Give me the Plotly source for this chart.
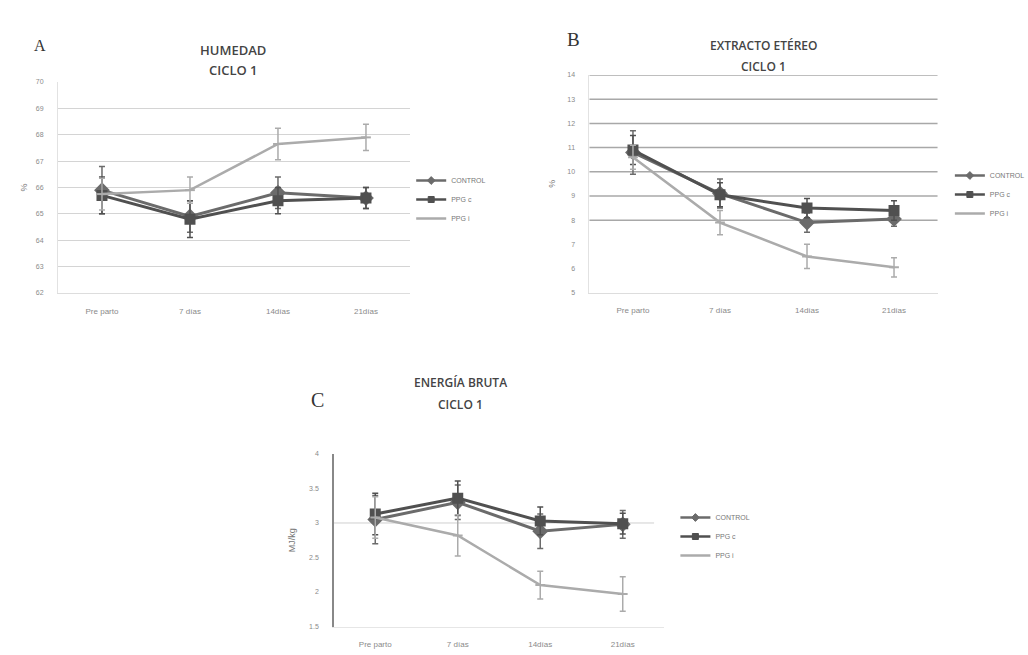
import plotly.graph_objects as go

# ---------------- data ----------------
categorias = ["Pre parto", "7 días", "14días", "21días"]
series = ["CONTROL", "PPG c", "PPG i"]

humedad_control = [65.9, 64.9, 65.8, 65.6]
humedad_control_err = [0.9, 0.6, 0.6, 0.4]
humedad_ppgc = [65.7, 64.8, 65.5, 65.6]
humedad_ppgc_err = [0.7, 0.7, 0.5, 0.4]
humedad_ppgi = [65.75, 65.9, 67.65, 67.9]
humedad_ppgi_err = [0.6, 0.5, 0.6, 0.5]

extracto_control = [10.8, 9.1, 7.9, 8.05]
extracto_control_err = [0.9, 0.6, 0.4, 0.3]
extracto_ppgc = [10.9, 9.05, 8.5, 8.4]
extracto_ppgc_err = [0.6, 0.5, 0.4, 0.4]
extracto_ppgi = [10.6, 7.9, 6.5, 6.05]
extracto_ppgi_err = [0.5, 0.5, 0.5, 0.4]

energia_control = [3.05, 3.3, 2.88, 2.98]
energia_control_err = [0.35, 0.25, 0.25, 0.2]
energia_ppgc = [3.13, 3.36, 3.03, 2.99]
energia_ppgc_err = [0.3, 0.25, 0.2, 0.15]
energia_ppgi = [3.08, 2.82, 2.1, 1.97]
energia_ppgi_err = [0.3, 0.3, 0.2, 0.25]

ticks_a = [62, 63, 64, 65, 66, 67, 68, 69, 70]
ticks_b = [5, 6, 7, 8, 9, 10, 11, 12, 13, 14]
grid_b = [8, 9, 10, 11, 12, 13, 14]
ticks_c = [1.5, 2, 2.5, 3, 3.5, 4]
ticktext_c = ["1.5", "2", "2.5", "3", "3.5", "4"]
grid_c = [3]

# ---------------- styles ----------------
colors = {"CONTROL": "#6b6b6b", "PPG c": "#505050", "PPG i": "#ababab"}
symbols = {"CONTROL": "diamond", "PPG c": "square", "PPG i": "line-ew"}
msize = {"CONTROL": 10, "PPG c": 9, "PPG i": 7}
lwidth = {"CONTROL": 3, "PPG c": 3, "PPG i": 2.5}

fig = go.Figure()

panels = [
    ("x", "y", "legend", [humedad_control, humedad_ppgc, humedad_ppgi],
     [humedad_control_err, humedad_ppgc_err, humedad_ppgi_err]),
    ("x2", "y2", "legend2", [extracto_control, extracto_ppgc, extracto_ppgi],
     [extracto_control_err, extracto_ppgc_err, extracto_ppgi_err]),
    ("x3", "y3", "legend3", [energia_control, energia_ppgc, energia_ppgi],
     [energia_control_err, energia_ppgc_err, energia_ppgi_err]),
]

for xa, ya, leg, vals, errs in panels:
    for name, v, e in zip(series, vals, errs):
        c = colors[name]
        fig.add_trace(go.Scatter(
            x=categorias, y=v, name=name, xaxis=xa, yaxis=ya,
            showlegend=False, mode="lines+markers",
            line=dict(color=c, width=lwidth[name]),
            marker=dict(symbol=symbols[name], size=msize[name], color=c,
                        line=dict(color=c, width=2)),
            error_y=dict(type="data", array=e, visible=True, color=c,
                         thickness=1.5, width=3),
        ))
        # legend entry with smaller symbol
        fig.add_trace(go.Scatter(
            x=[None], y=[None], name=name, xaxis=xa, yaxis=ya, legend=leg,
            mode="lines+markers", line=dict(color=c, width=2.5),
            marker=dict(symbol=symbols[name], size=6, color=c,
                        line=dict(color=c, width=1)),
            hoverinfo="skip",
        ))

tickfont = dict(family="Liberation Sans, Arial", size=7, color="#8a8a8a")
catfont = dict(family="Liberation Sans, Arial", size=8, color="#8a8a8a")

def xaxis(domain, anchor, linecolor="#dddddd"):
    return dict(domain=domain, anchor=anchor, type="category",
                range=[-0.5, 3.5], showgrid=False, zeroline=False,
                showline=True, linecolor=linecolor, linewidth=1,
                ticks="outside", ticklen=10, tickcolor="rgba(0,0,0,0)",
                tickfont=catfont, fixedrange=True, automargin=False)

legfont = dict(family="Liberation Sans, Arial", size=7, color="#777777")
legcommon = dict(xanchor="left", yanchor="top", font=legfont, itemwidth=30,
                 bgcolor="rgba(0,0,0,0)", tracegroupgap=0)

fig.update_layout(
    width=1028, height=655,
    margin=dict(l=0, r=0, t=0, b=0, autoexpand=False),
    paper_bgcolor="white", plot_bgcolor="white",
    showlegend=True,
    font=dict(family="Liberation Sans, Arial", color="#555555"),
    xaxis=xaxis([0.0564, 0.3988], "y"),
    yaxis=dict(domain=[0.5527, 0.8748], anchor="x", range=[62, 70],
               tickvals=ticks_a, showgrid=True, gridcolor="#d4d4d4",
               gridwidth=1, zeroline=False, showline=True,
               linecolor="#e2e2e2", ticks="outside", ticklen=12,
               tickcolor="rgba(0,0,0,0)", tickfont=tickfont, automargin=False,
               title=dict(text="%", font=dict(size=9, color="#777777"), standoff=6)),
    xaxis2=xaxis([0.5734, 0.912], "y2"),
    yaxis2=dict(domain=[0.5531, 0.8855], anchor="x2", range=[5, 14],
                tickvals=ticks_b, showgrid=False, zeroline=False,
                showline=True, linecolor="#e2e2e2", ticks="outside",
                ticklen=12, tickcolor="rgba(0,0,0,0)", tickfont=tickfont,
                automargin=False,
                title=dict(text="%", font=dict(size=9, color="#777777"), standoff=10)),
    xaxis3=xaxis([0.3249, 0.6459], "y3", linecolor="#e6e6e6"),
    yaxis3=dict(domain=[0.0435, 0.3069], anchor="x3", range=[1.5, 4],
                tickvals=ticks_c, ticktext=ticktext_c, showgrid=False,
                zeroline=False, showline=True, linecolor="#888888",
                linewidth=1.5, ticks="outside", ticklen=12,
                tickcolor="rgba(0,0,0,0)", tickfont=tickfont, automargin=False,
                title=dict(text="MJ/kg", font=dict(size=9, color="#777777"), standoff=12)),
    legend=dict(x=0.400, y=1 - 166 / 655, **legcommon),
    legend2=dict(x=0.924, y=1 - 161 / 655, **legcommon),
    legend3=dict(x=0.657, y=1 - 503 / 655, **legcommon),
)

# gridlines for panel B and C (reference lines at given values)
for g in grid_b:
    fig.add_shape(type="line", xref="x2 domain", yref="y2", x0=0, x1=1,
                  y0=g, y1=g, line=dict(color="#a8a8a8", width=1.5), layer="below")
for g in grid_c:
    fig.add_shape(type="line", xref="x3 domain", yref="y3", x0=0, x1=0.97,
                  y0=g, y1=g, line=dict(color="#cfcfcf", width=1), layer="below")

titlefont = dict(family="Open Sans, Liberation Sans", size=13, color="#444444",
                 weight=600)
lettfont = dict(family="Liberation Serif, DejaVu Serif", color="#333333")

annots = [
    dict(text="HUMEDAD", x=233 / 1028, y=1 - 50 / 655, font=titlefont),
    dict(text="CICLO 1", x=233 / 1028, y=1 - 70 / 655, font=titlefont),
    dict(text="EXTRACTO ETÉREO", x=763 / 1028, y=1 - 46 / 655,
         font=dict(titlefont, size=12)),
    dict(text="CICLO 1", x=763 / 1028, y=1 - 66 / 655,
         font=dict(titlefont, size=12)),
    dict(text="ENERGÍA BRUTA", x=460 / 1028, y=1 - 383 / 655,
         font=dict(titlefont, size=12)),
    dict(text="CICLO 1", x=460 / 1028, y=1 - 404 / 655,
         font=dict(titlefont, size=12)),
    dict(text="A", x=40 / 1028, y=1 - 45 / 655, font=dict(lettfont, size=16)),
    dict(text="B", x=573 / 1028, y=1 - 40 / 655, font=dict(lettfont, size=19)),
    dict(text="C", x=317 / 1028, y=1 - 400 / 655, font=dict(lettfont, size=20)),
]
for a in annots:
    fig.add_annotation(xref="paper", yref="paper", xanchor="center",
                       yanchor="middle", showarrow=False, **a)

fig.write_html("out.html", config={"displayModeBar": False},
               post_script="document.body.style.margin='0';document.body.style.overflow='hidden';")
